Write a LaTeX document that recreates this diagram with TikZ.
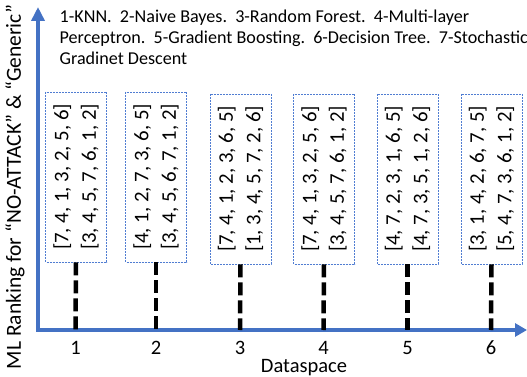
\documentclass[tikz,border=0pt]{standalone}
\usepackage{fontspec}
\setmainfont{Carlito}
\usetikzlibrary{arrows.meta}
\definecolor{axblue}{RGB}{68,114,196}
\definecolor{boxblue}{RGB}{80,125,210}
\begin{document}
\begin{tikzpicture}[x=1pt,y=-1pt,
  rankbox/.style={draw=boxblue, line width=0.7pt, dash pattern=on 2pt off 1pt,
     rotate=90, minimum width=170pt, minimum height=61pt, inner sep=0pt,
     align=center, font=\fontsize{20.8}{27.5}\selectfont},
  axisline/.style={draw=axblue, line width=4pt, line join=miter},
  dropline/.style={line width=4.5pt, dash pattern=on 13pt off 5pt},
  ticklab/.style={font=\fontsize{20.5}{22}\selectfont, inner sep=0pt}]
\useasboundingbox (0,0) rectangle (527,377);
% axes
\coordinate (ytop) at (38,7);
\coordinate (orig) at (38,330);
\coordinate (xend) at (527,330);
\draw[axisline, {Triangle[length=14pt,width=13pt]}-{Triangle[length=12pt,width=13pt]}] (ytop) -- (orig) -- (xend);
% boxes
\node[rankbox] (b1) at (76,177) {[7, 4, 1, 3, 2, 5, 6]\\\relax [3, 4, 5, 7, 6, 1, 2]};
\node[rankbox] (b2) at (156,177) {[4, 1, 2, 7, 3, 6, 5]\\\relax [3, 4, 5, 6, 7, 1, 2]};
\node[rankbox] (b3) at (240.5,179) {[7, 4, 1, 2, 3, 6, 5]\\\relax [1, 3, 4, 5, 7, 2, 6]};
\node[rankbox] (b4) at (324,179) {[7, 4, 1, 3, 2, 5, 6]\\\relax [3, 4, 5, 7, 6, 1, 2]};
\node[rankbox] (b5) at (407.5,179) {[4, 7, 2, 3, 1, 6, 5]\\\relax [4, 7, 3, 5, 1, 2, 6]};
\node[rankbox] (b6) at (491.5,179) {[3, 1, 4, 2, 6, 7, 5]\\\relax [5, 4, 7, 3, 6, 1, 2]};
% drop lines
\foreach \i/\x in {1/75.5,2/156,3/240,4/323.5,5/407.5,6/491} {
  \coordinate (t\i) at (\x,330);
  \draw[dropline] (b\i.west) -- (t\i);
  \node[ticklab] (l\i) at (\x,348) {\i};
}
\node[ticklab] (xlab) at (304,368) {Dataspace};
\node[font=\fontsize{21.5}{24}\selectfont, rotate=90, inner sep=0pt] (ylab) at (15,187) {ML Ranking for “NO-ATTACK” \& “Generic”};
\node[anchor=north west, align=left, inner sep=0pt, font=\fontsize{18.1}{21}\selectfont] (legend) at (59.5,9.6)
  {1-KNN.\ \ 2-Naive Bayes.\ \ 3-Random Forest.\ \ 4-Multi-layer\\
   Perceptron.\ \ 5-Gradient Boosting.\ \ 6-Decision Tree.\ \ 7-Stochastic\\
   Gradinet Descent};
\end{tikzpicture}
\end{document}
